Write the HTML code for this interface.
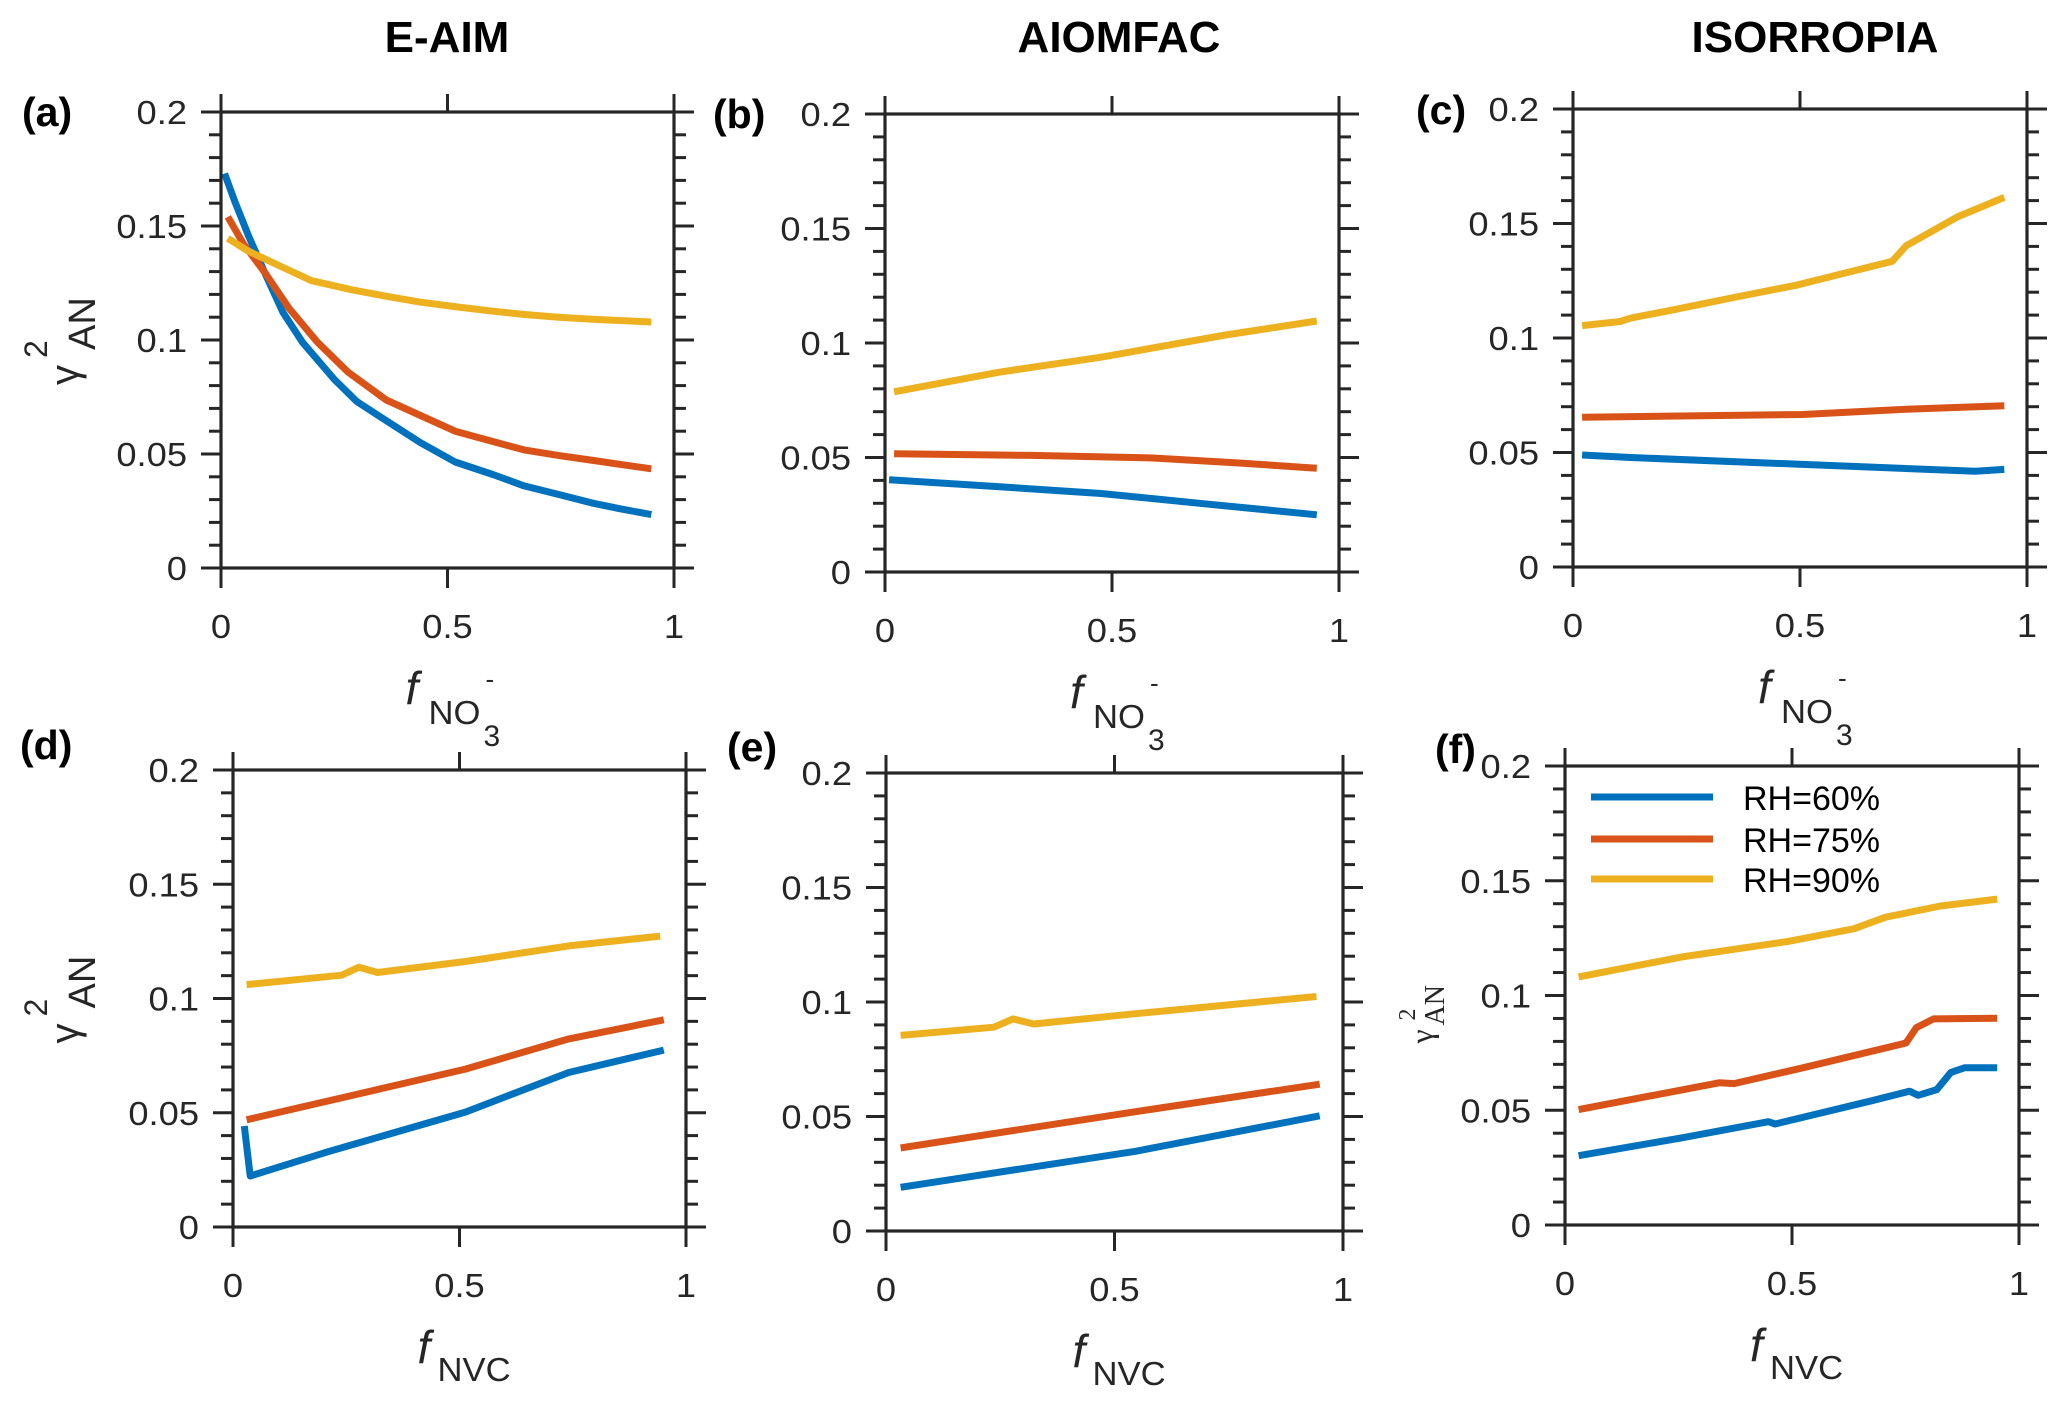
<!DOCTYPE html>
<html><head><meta charset="utf-8"><style>
html,body{margin:0;padding:0;background:#fff}
svg{display:block}
</style></head><body>
<svg id="fig" width="2067" height="1404" viewBox="0 0 2067 1404" xmlns="http://www.w3.org/2000/svg" font-family="'Liberation Sans', sans-serif">
<rect width="2067" height="1404" fill="#fff"/>
<g font-weight="bold" font-size="44" text-anchor="middle" fill="#000">
<text x="447" y="52">E-AIM</text>
<text x="1119" y="52">AIOMFAC</text>
<text x="1815" y="52">ISORROPIA</text>
</g>
</svg>
<script>
// ---- data (x = f fraction, y = gamma^2_AN) ----
const xTickLabels = ["0","0.5","1"];
const xTickValues = [0,0.5,1];
const yTickLabels = ["0","0.05","0.1","0.15","0.2"];
const yTickValues = [0,0.05,0.1,0.15,0.2];
const seriesNames = ["RH=60%","RH=75%","RH=90%"];

const aBlueX = [0.008,0.03,0.06,0.1,0.137,0.18,0.25,0.3,0.365,0.44,0.517,0.6,0.669,0.75,0.821,0.88,0.95];
const aBlueY = [0.173,0.161,0.146,0.128,0.112,0.099,0.0827,0.073,0.0646,0.055,0.0465,0.041,0.036,0.032,0.0284,0.026,0.0234];
const aRedX = [0.015,0.05,0.099,0.15,0.213,0.28,0.365,0.45,0.517,0.6,0.669,0.75,0.821,0.88,0.95];
const aRedY = [0.154,0.142,0.129,0.114,0.099,0.086,0.0737,0.066,0.060,0.0555,0.0518,0.0492,0.0472,0.0455,0.0435];
const aYelX = [0.015,0.06,0.137,0.2,0.289,0.37,0.441,0.52,0.593,0.67,0.745,0.83,0.95];
const aYelY = [0.1446,0.139,0.1318,0.126,0.122,0.119,0.1166,0.1145,0.1128,0.1112,0.110,0.109,0.1079];

const bBlueX = [0.009,0.248,0.476,0.704,0.951];
const bBlueY = [0.0403,0.0373,0.0343,0.0298,0.025];
const bRedX = [0.02,0.324,0.59,0.78,0.951];
const bRedY = [0.0516,0.0509,0.0498,0.0476,0.0453];
const bYelX = [0.02,0.25,0.476,0.75,0.951];
const bYelY = [0.0787,0.0872,0.0938,0.1035,0.1096];

const cBlueX = [0.02,0.127,0.506,0.886,0.95];
const cBlueY = [0.0489,0.0478,0.0448,0.0418,0.0426];
const cRedX = [0.02,0.506,0.734,0.95];
const cRedY = [0.0654,0.0666,0.0689,0.0704];
const cYelX = [0.02,0.104,0.127,0.225,0.354,0.491,0.582,0.703,0.734,0.848,0.95];
const cYelY = [0.1054,0.1072,0.1087,0.1125,0.1177,0.123,0.1275,0.1335,0.1403,0.153,0.1614];

const dBlueX = [0.025,0.038,0.209,0.513,0.741,0.951];
const dBlueY = [0.0442,0.0223,0.0329,0.0503,0.0676,0.0774];
const dRedX = [0.03,0.285,0.513,0.741,0.951];
const dRedY = [0.0469,0.0586,0.0691,0.0823,0.0907];
const dYelX = [0.03,0.24,0.278,0.319,0.513,0.741,0.943];
const dYelY = [0.1061,0.1102,0.1137,0.1114,0.1162,0.123,0.1273];

const eBlueX = [0.032,0.546,0.949];
const eBlueY = [0.0191,0.0348,0.0503];
const eRedX = [0.032,0.546,0.949];
const eRedY = [0.0363,0.0521,0.0641];
const eYelX = [0.032,0.236,0.278,0.323,0.546,0.942];
const eYelY = [0.0854,0.089,0.0926,0.0904,0.0949,0.1024];

const fBlueX = [0.03,0.258,0.448,0.463,0.675,0.759,0.778,0.819,0.85,0.88,0.952];
const fBlueY = [0.0302,0.038,0.045,0.044,0.0541,0.0583,0.0565,0.059,0.0665,0.0685,0.0685];
const fRedX = [0.03,0.341,0.372,0.524,0.751,0.774,0.812,0.952];
const fRedY = [0.0503,0.062,0.0616,0.0685,0.0793,0.086,0.0898,0.0901];
const fYelX = [0.03,0.258,0.493,0.637,0.706,0.827,0.952];
const fYelY = [0.1081,0.1168,0.1236,0.1291,0.1341,0.139,0.142];

const colors = ["#0072BD","#D95319","#EDB120"];
const NS = "http://www.w3.org/2000/svg";
const svg = document.getElementById("fig");

function mk(tag, attrs, parent){
  const e = document.createElementNS(NS, tag);
  for (const k in attrs) e.setAttribute(k, attrs[k]);
  (parent||svg).appendChild(e);
  return e;
}
function stext(parent, x, y, str, size, anchor, sx){
  const t = mk("text", {transform:"translate("+x+","+y+") scale("+(sx||1.1)+",1)", "font-size":size, "text-anchor":anchor||"start", fill:"#262626"}, parent);
  t.textContent = str;
  return t;
}

const panels = [
  {id:"a", L:221, R:674, T:112, B:568, lx:22, ly:126, xl:"no3", yl:"sans",
   series:[[aBlueX,aBlueY],[aRedX,aRedY],[aYelX,aYelY]]},
  {id:"b", L:885, R:1339, T:114, B:572, lx:713, ly:128, xl:"no3", yl:null,
   series:[[bBlueX,bBlueY],[bRedX,bRedY],[bYelX,bYelY]]},
  {id:"c", L:1573, R:2027, T:109, B:567, lx:1416, ly:124, xl:"no3", yl:null,
   series:[[cBlueX,cBlueY],[cRedX,cRedY],[cYelX,cYelY]]},
  {id:"d", L:233, R:686, T:770, B:1227, lx:20, ly:759, xl:"nvc", yl:"sans",
   series:[[dBlueX,dBlueY],[dRedX,dRedY],[dYelX,dYelY]]},
  {id:"e", L:886, R:1343, T:773, B:1231, lx:727, ly:761, xl:"nvc", yl:null,
   series:[[eBlueX,eBlueY],[eRedX,eRedY],[eYelX,eYelY]]},
  {id:"f", L:1565, R:2019, T:766, B:1225, lx:1435, ly:763, xl:"nvc", yl:"serif", legend:true,
   series:[[fBlueX,fBlueY],[fRedX,fRedY],[fYelX,fYelY]]}
];

panels.forEach(p => {
  const g = mk("g", {});
  
  
  const sx = v => p.L + v*(p.R-p.L);
  const sy = v => p.B - v/0.2*(p.B-p.T);
  const ax = "#262626";

  p.series.forEach((s, i) => {
    const pts = s[0].map((xv, j) => sx(xv).toFixed(1)+","+sy(s[1][j]).toFixed(1)).join(" ");
    const pl = mk("polyline", {points:pts, fill:"none", stroke:colors[i], "stroke-width":7, "stroke-linejoin":"round"}, g);
    
    
  });

  const box = mk("rect", {x:p.L, y:p.T, width:p.R-p.L, height:p.B-p.T, fill:"none", stroke:ax, "stroke-width":3.2}, g);
  
  

  for (let k = 0; k <= 20; k++) {
    const v = k*0.01, y = sy(v), major = (k % 5 === 0), len = major ? 20 : 12;
    mk("line", {x1:p.L-len, y1:y, x2:p.L, y2:y, stroke:ax, "stroke-width":3}, g);
    mk("line", {x1:p.R, y1:y, x2:p.R+len, y2:y, stroke:ax, "stroke-width":3}, g);
  }
  xTickValues.forEach(v => {
    const x = sx(v);
    mk("line", {x1:x, y1:p.T-18, x2:x, y2:p.T, stroke:ax, "stroke-width":3}, g);
    mk("line", {x1:x, y1:p.B, x2:x, y2:p.B+20, stroke:ax, "stroke-width":3}, g);
  });
  yTickValues.forEach((v, i) => {
    const t = stext(g, p.L-34, sy(v)+12, yTickLabels[i], 33, "end");
    
    
  });
  xTickValues.forEach((v, i) => {
    const t = stext(g, sx(v), p.B+70, xTickLabels[i], 33, "middle");
    
    
  });

  const pl = mk("text", {x:p.lx, y:p.ly, "font-size":41, "font-weight":"bold", fill:"#000"}, g);
  pl.textContent = "(" + p.id + ")";
  
  

  const cx = (p.L+p.R)/2;
  const xg = mk("g", {fill:"#262626"}, g);
  
  
  const f = mk("text", {x:cx-42, y:p.B+136, "font-size":46, "font-style":"italic"}, xg);
  f.textContent = "f";
  if (p.xl === "no3") {
    stext(xg, cx-19, p.B+156, "NO", 33, "start", 1.05);
    stext(xg, cx+36, p.B+178, "3", 30, "start", 1.0);
    stext(xg, cx+38, p.B+120, "-", 26, "start", 1.0);
  } else {
    stext(xg, cx-22, p.B+154, "NVC", 33, "start", 1.05);
  }

  if (p.yl) {
    const cy = (p.T+p.B)/2;
    const yg = mk("g", {fill:"#262626"}, g);
    
    
    if (p.yl === "sans") {
      mk("text", {transform:"translate(78,"+(cy+45)+") rotate(-90)", "font-size":40}, yg).textContent = "γ";
      mk("text", {transform:"translate(47,"+(cy+18)+") rotate(-90)", "font-size":32}, yg).textContent = "2";
      mk("text", {transform:"translate(95,"+(cy+10)+") rotate(-90)", "font-size":38}, yg).textContent = "AN";
    } else {
      mk("text", {transform:"translate(1432,"+(cy+48)+") rotate(-90)", "font-size":32, "font-family":"'Liberation Serif', serif"}, yg).textContent = "γ";
      mk("text", {transform:"translate(1415,"+(cy+25)+") rotate(-90)", "font-size":24, "font-family":"'Liberation Serif', serif"}, yg).textContent = "2";
      mk("text", {transform:"translate(1444,"+(cy+30)+") rotate(-90)", "font-size":28, "font-family":"'Liberation Serif', serif"}, yg).textContent = "AN";
    }
  }

  if (p.legend) {
    const lg = mk("g", {}, g);
    
    
    const ys = [797, 839, 879];
    seriesNames.forEach((n, i) => {
      const e = mk("g", {}, lg);
      
      
      mk("line", {x1:1591, y1:ys[i], x2:1713, y2:ys[i], stroke:colors[i], "stroke-width":7}, e);
      const t = stext(e, 1743, ys[i]+13, n, 34, "start", 1.0);
      t.setAttribute('fill', '#000');
    });
  }
});
</script>
</body></html>
